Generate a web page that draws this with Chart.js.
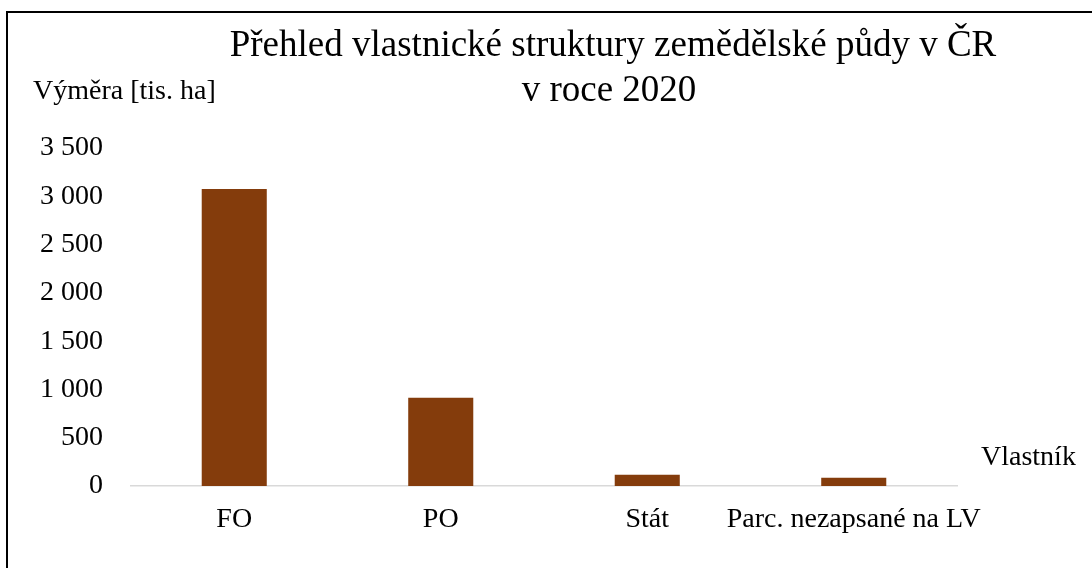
<!DOCTYPE html>
<html>
<head>
<meta charset="utf-8">
<script src="https://cdn.jsdelivr.net/npm/chart.js@4.4.1/dist/chart.umd.min.js"></script>
<style>
  html, body { margin: 0; padding: 0; background: #fff; }
  #wrap { position: relative; width: 1092px; height: 568px; overflow: hidden; }
  #frame { position: absolute; left: 6px; top: 11px; width: 1200px; height: 700px;
           border-left: 2px solid #000; border-top: 2px solid #000; pointer-events: none; }
  canvas { position: absolute; left: 0; top: 0; }
</style>
</head>
<body>
<div id="wrap">
  <canvas id="c" width="1092" height="568"></canvas>
  <div id="frame"></div>
</div>
<script>
const categories = ["FO", "PO", "Stát", "Parc. nezapsané na LV"];
const areaValues = [3075, 914, 117, 86];
const titleLines = ["Přehled vlastnické struktury zemědělské půdy v ČR", "v roce 2020"];
const yAxisTitle = "Výměra [tis. ha]";
const xAxisTitle = "Vlastník";
const yMax = 3500;
const yStep = 500;

const FONT = '"Liberation Serif", "Times New Roman", serif';

function fmt(v) {
  return String(v).replace(/\B(?=(\d{3})+(?!\d))/g, " ");
}

const textPlugin = {
  id: 'texts',
  afterDraw(chart) {
    const ctx = chart.ctx;
    ctx.save();
    ctx.fillStyle = '#000';
    ctx.textBaseline = 'alphabetic';
    ctx.font = '37px ' + FONT;
    ctx.textAlign = 'center';
    ctx.fillText(titleLines[0], 613, 56);
    ctx.fillText(titleLines[1], 609, 101);
    ctx.font = '28px ' + FONT;
    ctx.textAlign = 'left';
    ctx.fillText(yAxisTitle, 33, 99);
    ctx.fillText(xAxisTitle, 981, 465);
    ctx.restore();
  }
};

new Chart(document.getElementById('c'), {
  type: 'bar',
  data: {
    labels: categories,
    datasets: [{
      data: areaValues,
      backgroundColor: '#843C0C',
      borderWidth: 0,
      barPercentage: 0.315,
      categoryPercentage: 1.0
    }]
  },
  options: {
    responsive: false,
    animation: false,
    devicePixelRatio: 1,
    layout: { padding: { top: 148, right: 135, bottom: 0, left: 0 } },
    plugins: {
      legend: { display: false },
      title: { display: false },
      tooltip: { enabled: false }
    },
    scales: {
      x: {
        grid: { display: false, drawTicks: false },
        border: { display: true, color: '#d9d9d9', width: 1.5 },
        ticks: { color: '#000', font: { family: FONT, size: 28 }, padding: 17, maxRotation: 0, autoSkip: false },
        afterFit(s) { s.height = 82; }
      },
      y: {
        min: 0, max: yMax,
        grid: { display: false, drawTicks: false },
        border: { display: false },
        ticks: { stepSize: yStep, color: '#000', font: { family: FONT, size: 28 }, padding: 28,
                 callback: (v) => fmt(v) },
        afterFit(s) { s.width = 131; }
      }
    }
  },
  plugins: [textPlugin]
});
</script>
</body>
</html>
